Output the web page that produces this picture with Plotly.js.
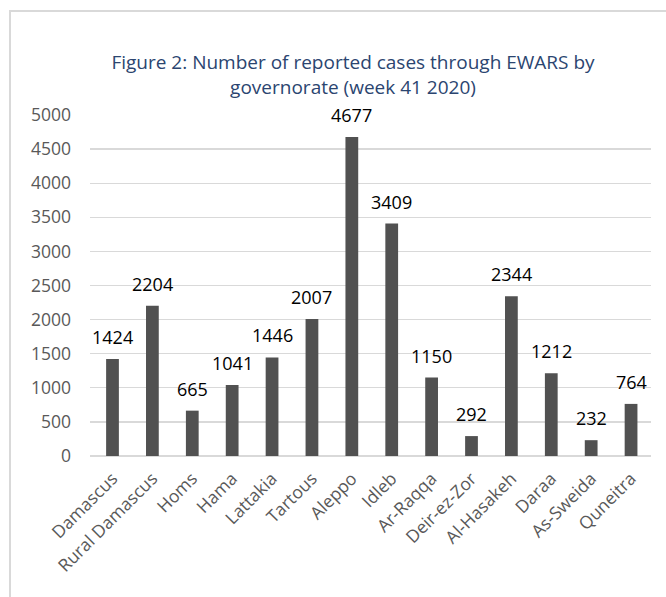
<!DOCTYPE html>
<html>
<head>
<meta charset="utf-8">
<script src="https://cdn.plot.ly/plotly-3.0.1.min.js"></script>
<style>
  html, body { margin: 0; padding: 0; background: #ffffff; }
  #wrap { position: relative; width: 666px; height: 597px; overflow: hidden; }
  #frame { position: absolute; left: 9px; top: 10px; width: 700px; height: 700px; border: 2px solid #d9d9d9; box-sizing: border-box; pointer-events: none; }
  #chart { position: absolute; left: 0; top: 0; width: 666px; height: 597px; }
</style>
</head>
<body>
<div id="wrap">
  <div id="chart"></div>
  <div id="frame"></div>
</div>
<script>
const categories = ["Damascus", "Rural Damascus", "Homs", "Hama", "Lattakia", "Tartous", "Aleppo", "Idleb", "Ar-Raqqa", "Deir-ez-Zor", "Al-Hasakeh", "Daraa", "As-Sweida", "Quneitra"];
const cases = [1424, 2204, 665, 1041, 1446, 2007, 4677, 3409, 1150, 292, 2344, 1212, 232, 764];
const yTickValues = [0, 500, 1000, 1500, 2000, 2500, 3000, 3500, 4000, 4500, 5000];
const titleText = "Figure 2: Number of reported cases through EWARS by<br>governorate (week 41 2020)";

const FONT = "Open Sans, Lato, DejaVu Sans, sans-serif";

const trace = {
  type: "bar",
  x: categories,
  y: cases,
  marker: { color: "#515151" },
  hoverinfo: "x+y"
};

const annotations = categories.map((c, i) => ({
  x: c,
  y: cases[i],
  xref: "x",
  yref: "y",
  text: String(cases[i]),
  showarrow: false,
  yanchor: "middle",
  yshift: 22,
  font: { family: FONT, size: 18, color: "#000000" }
}));

const layout = {
  width: 666,
  height: 597,
  margin: { l: 90, r: 15, t: 115, b: 141, pad: 0 },
  paper_bgcolor: "#ffffff",
  plot_bgcolor: "#ffffff",
  bargap: 0.68,
  showlegend: false,
  title: {
    text: titleText,
    x: 353 / 666,
    xanchor: "center",
    xref: "container",
    y: 1 - 69 / 597,
    yanchor: "middle",
    yref: "container",
    font: { family: FONT, size: 19, color: "#2b4570" }
  },
  xaxis: {
    type: "category",
    tickangle: -45,
    showgrid: false,
    showline: false,
    ticks: "",
    ticklabelstandoff: 8,
    tickfont: { family: FONT, size: 17.5, color: "#595959" },
    fixedrange: true
  },
  yaxis: {
    range: [0, 5000],
    tickvals: yTickValues,
    ticktext: yTickValues.map(String),
    showgrid: true,
    gridcolor: "#d9d9d9",
    gridwidth: 1.3,
    zeroline: true,
    zerolinecolor: "#d9d9d9",
    zerolinewidth: 1.3,
    showline: false,
    ticks: "",
    ticklabelstandoff: 18,
    tickfont: { family: FONT, size: 17.5, color: "#595959" },
    fixedrange: true
  },
  annotations: annotations
};

Plotly.newPlot("chart", [trace], layout, { displayModeBar: false, staticPlot: true });
</script>
</body>
</html>
